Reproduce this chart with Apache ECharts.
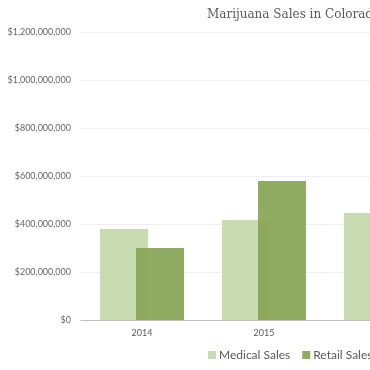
<!DOCTYPE html>
<html><head><meta charset="utf-8">
<script src="https://cdn.jsdelivr.net/npm/echarts@6/dist/echarts.min.js"></script>
<style>html,body{margin:0;padding:0;background:#fff}#c{width:370px;height:370px}</style>
</head><body><div id="c"></div>
<script>
var categories = ['2014', '2015', '2016'];
var medicalSales = [379000000, 417000000, 446000000];
var retailSales = [300000000, 579000000, 875000000];
var yTicks = [0, 200000000, 400000000, 600000000, 800000000, 1000000000, 1200000000];

function fmt(v){ return '$' + v.toString().replace(/\B(?=(\d{3})+(?!\d))/g, ','); }

var chart = echarts.init(document.getElementById('c'), null, {renderer:'canvas'});
chart.setOption({
  animation: false,
  title: {
    text: 'Marijuana Sales in Colorado',
    left: 202, top: 4,
    textStyle: {fontFamily: 'DejaVu Serif', fontSize: 12, fontWeight: 'normal', color: '#595959'}
  },
  legend: {
    data: ['Medical Sales', 'Retail Sales'],
    left: 203, top: 344, width: 400,
    itemWidth: 8, itemHeight: 8, itemGap: 12,
    icon: 'rect',
    textStyle: {fontFamily: 'Lato', fontSize: 12, color: '#595959', padding: [0,0,0,-2]}
  },
  grid: {left: 81, top: 32, width: 366, bottom: 50, containLabel: false, outerBoundsMode: 'none'},
  xAxis: {
    type: 'category', data: categories,
    axisLine: {lineStyle: {color: '#bfbfbf', width: 1}},
    axisTick: {show: false},
    axisLabel: {fontFamily: 'Lato', fontSize: 9, color: '#595959', margin: 9}
  },
  yAxis: {
    type: 'value', min: 0, max: 1200000000, interval: 200000000,
    axisLine: {show: false}, axisTick: {show: false},
    splitLine: {lineStyle: {color: '#f0f0f0'}},
    axisLabel: {fontFamily: 'Lato', fontSize: 9, color: '#666666', margin: 10, formatter: function(v){return fmt(v);}}
  },
  series: [
    {name: 'Medical Sales', type: 'bar', data: medicalSales, barWidth: 48, barGap: '-25%',
     itemStyle: {color: '#c9dbb0'}},
    {name: 'Retail Sales', type: 'bar', data: retailSales, barWidth: 48,
     itemStyle: {color: '#87a555', opacity: 0.92}}
  ]
});
</script></body></html>
